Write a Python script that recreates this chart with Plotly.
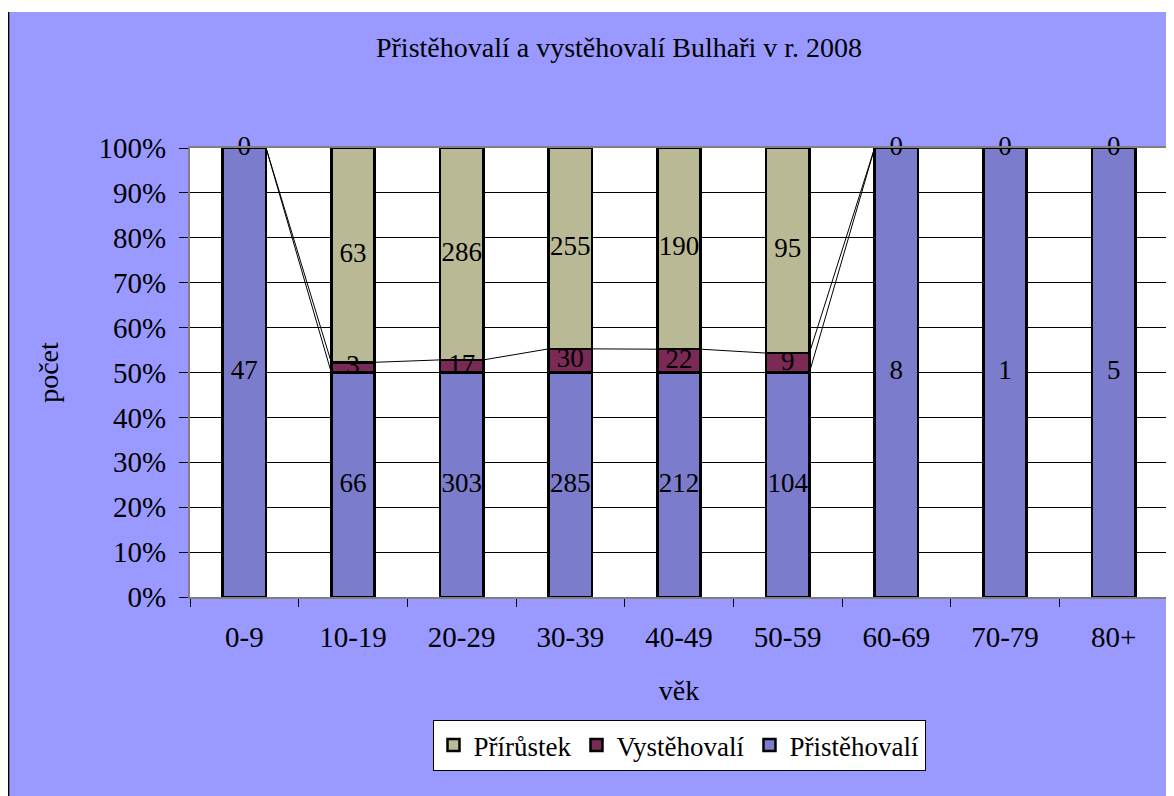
import plotly.graph_objects as go

# ---- data ----
categories = ["0-9", "10-19", "20-29", "30-39", "40-49", "50-59", "60-69", "70-79", "80+"]
pristehovali = [47, 66, 303, 285, 212, 104, 8, 1, 5]
vystehovali = [0, 3, 17, 30, 22, 9, 0, 0, 0]
prirustek = [None, 63, 286, 255, 190, 95, None, None, None]
y_ticks = [0, 10, 20, 30, 40, 50, 60, 70, 80, 90, 100]

title_text = "Přistěhovalí a vystěhovalí Bulhaři v r. 2008"
x_title = "věk"
y_title = "počet"

# ---- style ----
FONT = "Liberation Serif, Times New Roman, serif"
W, H = 1174, 796
OFF = 8  # page offset of the figure inside the browser page
L, T = 182, 140
R, B = 14, 207
PW, PH = W - L - R, H - T - B
BAR_W = 0.4

col_pri = "#7C7CCC"
col_vys = "#7A2A55"
col_prir = "#B9B995"

def px_x(p):
    return (p - OFF - L) / PW

def px_y(p):
    return (H - B - (p - OFF)) / PH

xpos = list(range(len(categories)))
series = [
    ("Přistěhovalí", pristehovali, col_pri),
    ("Vystěhovalí", vystehovali, col_vys),
    ("Přírůstek", prirustek, col_prir),
]

totals = [sum(v for v in vals if v is not None) for vals in zip(pristehovali, vystehovali, prirustek)]

fig = go.Figure()
for name, vals, col in series:
    fig.add_trace(go.Bar(
        x=xpos, y=vals, name=name,
        marker=dict(color=col, line=dict(color="black", width=2.5)),
        hoverinfo="name+y",
    ))

# cumulative percentage tops / label midpoints
cum = [0.0] * len(categories)
lab_x, lab_y, lab_t = [], [], []
tops = []
for name, vals, col in series:
    top_s = []
    for i, v in enumerate(vals):
        base = cum[i]
        if v is not None:
            h = 100.0 * v / totals[i]
            cum[i] = base + h
            lab_x.append(i)
            lab_y.append(base + h / 2)
            lab_t.append(str(v))
        top_s.append(cum[i])
    tops.append(top_s)

# series lines (between bars) for the lower two series
sx, sy = [], []
for top_s in tops[:2]:
    for i in range(len(categories) - 1):
        sx += [i + BAR_W / 2, i + 1 - BAR_W / 2, None]
        sy += [top_s[i], top_s[i + 1], None]
fig.add_trace(go.Scatter(x=sx, y=sy, mode="lines", line=dict(color="black", width=1),
                         showlegend=False, hoverinfo="skip"))

fig.add_trace(go.Scatter(x=lab_x, y=lab_y, text=lab_t, mode="text",
                         textposition="middle center",
                         textfont=dict(family=FONT, size=27, color="black"),
                         showlegend=False, hoverinfo="skip", cliponaxis=False))

fig.update_layout(
    width=W, height=H,
    margin=dict(l=L, r=R, t=T, b=B, autoexpand=False),
    paper_bgcolor="#9999FF",
    plot_bgcolor="white",
    barmode="stack", barnorm="percent", bargap=1 - BAR_W,
    font=dict(family=FONT, size=27, color="black"),
    title=dict(text=title_text, x=(619 - OFF) / W, xanchor="center",
               y=1 - (47 - OFF) / H, yanchor="middle",
               font=dict(family=FONT, size=28, color="black")),
    xaxis=dict(
        range=[-0.5, len(categories) - 0.5],
        tickmode="array", tickvals=xpos, ticktext=categories,
        ticks="", ticklabelstandoff=13,
        tickfont=dict(size=29),
        showline=True, linecolor="#808080", linewidth=2, mirror=True,
        showgrid=False, zeroline=False,
        minor=dict(ticks="outside", ticklen=8, tickcolor="black", tickwidth=1,
                   tickmode="array", tickvals=[i - 0.5 for i in range(len(categories) + 1)],
                   showgrid=False),
        title=dict(text=x_title, standoff=29, font=dict(size=28)),
        automargin=False,
    ),
    yaxis=dict(
        range=[0, 100], tickmode="array", tickvals=y_ticks,
        ticktext=[f"{v}%" for v in y_ticks],
        ticks="outside", ticklen=9, tickcolor="black", tickwidth=1,
        ticklabelstandoff=7,
        tickfont=dict(size=29),
        showline=True, linecolor="#808080", linewidth=2, mirror=True,
        showgrid=True, gridcolor="black", gridwidth=1, zeroline=False,
        title=dict(text=y_title, standoff=32, font=dict(size=28)),
        automargin=False,
    ),
    legend=dict(
        orientation="h", x=px_x(679), xanchor="center", y=px_y(720), yanchor="top",
        bgcolor="white", bordercolor="black", borderwidth=1,
        traceorder="reversed", font=dict(family=FONT, size=27, color="black"),
        itemwidth=30,
    ),
    shapes=[
        dict(type="rect", xref="paper", yref="paper", x0=px_x(0), x1=px_x(W + 10),
             y0=px_y(12), y1=px_y(0), fillcolor="white", line=dict(width=0), layer="below"),
        dict(type="line", xref="paper", yref="paper", x0=px_x(8.6), x1=px_x(8.6),
             y0=px_y(12), y1=px_y(H + 10), line=dict(color="black", width=1.5)),
    ],
)

fig.write_html("out.html")
